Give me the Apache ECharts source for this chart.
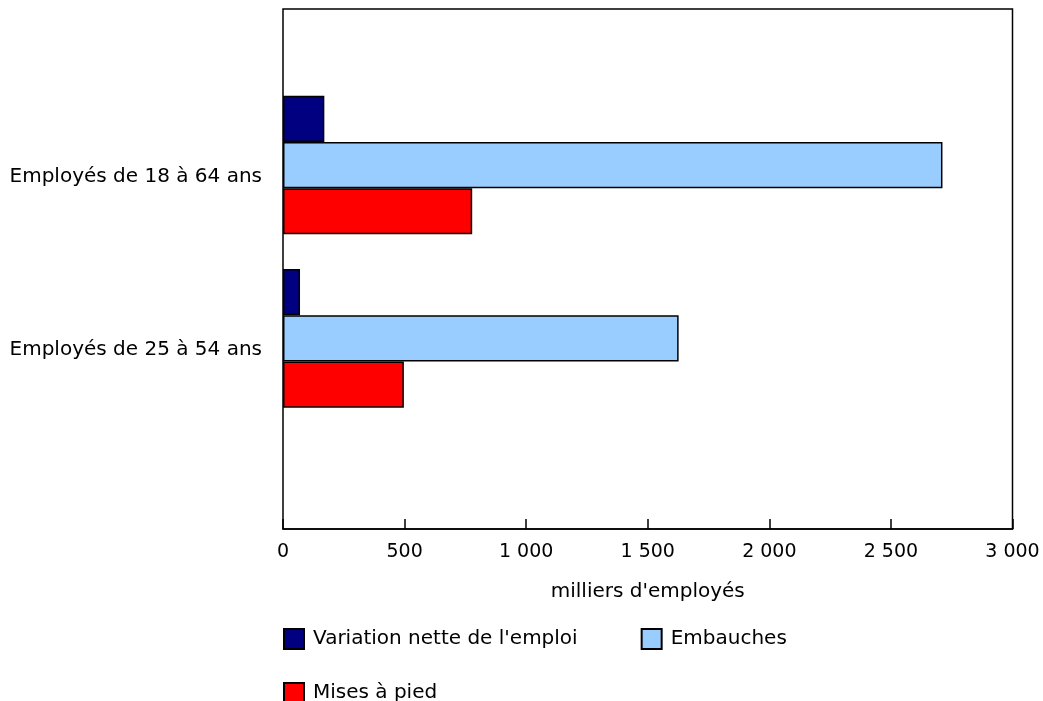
<!DOCTYPE html>
<html>
<head>
<meta charset="utf-8">
<script src="https://cdn.jsdelivr.net/npm/echarts@6/dist/echarts.min.js"></script>
<style>html,body{margin:0;padding:0;background:#fff;}#c{width:1043px;height:701px;}</style>
</head>
<body>
<div id="c"></div>
<script>
var categories = ['Employés de 18 à 64 ans', 'Employés de 25 à 54 ans'];
var variationNette = [170, 70];
var embauches = [2712, 1627];
var misesAPied = [778, 497];
var xTicks = [0, 500, 1000, 1500, 2000, 2500, 3000];
var seriesNames = ['Variation nette de l\'emploi', 'Embauches', 'Mises à pied'];

var FONT = 'DejaVu Sans';
function fmt(v) { return String(v).replace(/\B(?=(\d{3})+(?!\d))/g, ' '); }

var chart = echarts.init(document.getElementById('c'), null, {renderer: 'canvas'});
var barStyle = function (c) { return {color: c, borderColor: '#000', borderWidth: 1.5}; };
chart.setOption({
  animation: false,
  textStyle: {fontFamily: FONT},
  grid: [
    {left: 283, right: 30.5, top: 9, bottom: 172, show: true, borderColor: '#000', borderWidth: 1.5, backgroundColor: 'transparent'},
    {left: 283, right: 30.5, top: 78.4, bottom: 276}
  ],
  xAxis: [
    {type: 'value', gridIndex: 0, min: xTicks[0], max: xTicks[xTicks.length - 1], interval: 500,
     axisLine: {show: true, lineStyle: {color: '#000', width: 1.5}},
     axisTick: {show: true, inside: true, length: 10, lineStyle: {color: '#000', width: 1.5}},
     splitLine: {show: false},
     axisLabel: {color: '#000', fontSize: 19, fontFamily: FONT, margin: 14, formatter: fmt},
     name: 'milliers d\'employés', nameLocation: 'middle', nameGap: 53,
     nameTextStyle: {color: '#000', fontSize: 20, fontFamily: FONT}},
    {type: 'value', gridIndex: 1, min: xTicks[0], max: xTicks[xTicks.length - 1], show: false}
  ],
  yAxis: [
    {type: 'value', gridIndex: 0, show: false},
    {type: 'category', gridIndex: 1, inverse: true, data: categories,
     axisLine: {show: false}, axisTick: {show: false},
     axisLabel: {color: '#000', fontSize: 20, fontFamily: FONT, margin: 21, verticalAlign: 'top', lineHeight: 23}}
  ],
  legend: [
    {data: [seriesNames[0], seriesNames[1]], left: 278, top: 623, itemWidth: 20, itemHeight: 20, itemGap: 63,
     icon: 'rect', textStyle: {color: '#000', fontSize: 20, fontFamily: FONT, padding: [0, 0, 0, 4]}},
    {data: [seriesNames[2]], left: 278, top: 677, itemWidth: 20, itemHeight: 20,
     icon: 'rect', textStyle: {color: '#000', fontSize: 20, fontFamily: FONT, padding: [0, 0, 0, 4]}}
  ],
  series: [
    {name: seriesNames[0], type: 'bar', xAxisIndex: 1, yAxisIndex: 1, data: variationNette,
     itemStyle: barStyle('#000080'), barGap: '0%', barCategoryGap: '20%'},
    {name: seriesNames[1], type: 'bar', xAxisIndex: 1, yAxisIndex: 1, data: embauches,
     itemStyle: barStyle('#99CCFF'), barGap: '0%', barCategoryGap: '20%'},
    {name: seriesNames[2], type: 'bar', xAxisIndex: 1, yAxisIndex: 1, data: misesAPied,
     itemStyle: barStyle('#FF0000'), barGap: '0%', barCategoryGap: '20%'}
  ]
});
</script>
</body>
</html>
